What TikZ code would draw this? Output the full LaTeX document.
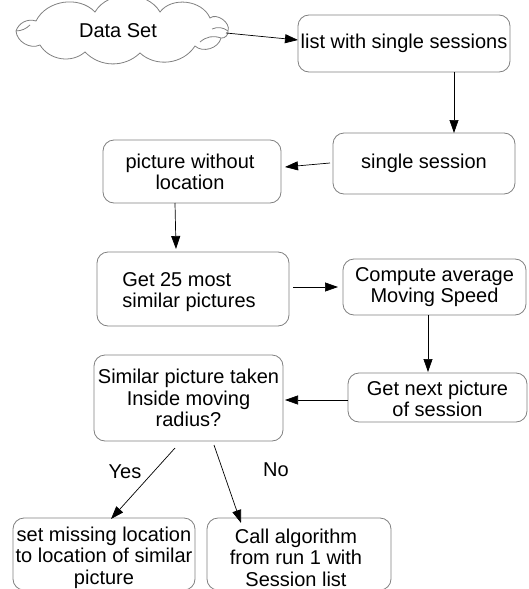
\documentclass[tikz,border=0pt]{standalone}
\usepackage{fontspec}
\setmainfont{Liberation Sans}
\usetikzlibrary{arrows.meta}
\begin{document}
\begin{tikzpicture}[x=1pt,y=-1pt,
  every node/.style={font=\fontsize{20}{21.5}\selectfont, inner sep=0pt, outer sep=0pt},
  box/.style={draw=black!50, line width=0.8pt, rounded corners=11pt, align=center},
  cloudline/.style={draw=black!50, line width=0.8pt},
  arr/.style={draw=black, line width=0.7pt, -{Triangle[length=13pt,width=9pt]}},
  lbl/.style={}]
\useasboundingbox (0,0) rectangle (528,589);
\clip (0,0) rectangle (528,589);
% cloud
\draw[cloudline] (16,31) to[bend left=45] (36,21) to[bend left=55] (95,12) to[bend left=60] (160,12)
  to[bend left=60] (210,18) to[bend left=75] (228,31) to[bend left=55] (221,38)
  to[bend left=60] (195,46) to[bend left=50] (140,53) to[bend left=45] (85,52)
  to[bend left=50] (40,45) to[bend left=55] (16,31) -- cycle;
\draw[cloudline] (212,29) to[bend left=30] (228,31);
\draw[cloudline] (200,42) to[bend left=30] (221,38);
\draw[cloudline] (16,31) to[bend right=20] (30,25);
\coordinate (dsout) at (226,33);
\node (dstext) at (118,31) {Data Set};
% boxes
\node[box, minimum width=212pt, minimum height=57pt] (list) at (404,43.5) {list with single sessions};
\node[box, minimum width=182pt, minimum height=61pt] (single) at (424,163.5) {single session};
\node[box, minimum width=178pt, minimum height=63pt] (pic) at (192,171.5) {};
\node[align=center] (pictext) at (190,172) {picture without\\location};
\node[box, minimum width=192pt, minimum height=74pt] (get) at (193,289) {};
\node[align=left] (gettext) at (189,292) {Get 25 most\\similar pictures};
\node[box, minimum width=183pt, minimum height=56pt] (comp) at (434.5,287) {Compute average\\Moving Speed};
\node[box, minimum width=179pt, minimum height=49pt] (next) at (437.5,397.5) {};
\node[align=center] (nexttext) at (437.5,399) {Get next picture\\of session};
\node[box, minimum width=189pt, minimum height=86pt] (sim) at (188.5,398) {Similar picture taken\\Inside moving\\radius?};
\node[box, minimum width=182pt, minimum height=72pt] (set) at (104,554) {};
\node[align=center] (settext) at (104,557.5) {set missing location\\to location of similar\\picture};
\node[box, minimum width=184pt, minimum height=72pt] (call) at (299,554) {};
\node[align=center] (calltext) at (296,557.5) {Call algorithm\\from run 1 with\\Session list};
% arrows
\draw[arr] (dsout) -- ([yshift=3.5pt]list.west);
\draw[arr] ([xshift=50pt]list.south) -- ([xshift=50pt]list.south |- single.north);
\draw[arr] ([xshift=-3pt,yshift=0.5pt]single.west) -- ([xshift=4pt,yshift=4.5pt]pic.east);
\draw[arr] ([xshift=-17pt]pic.south) -- ([xshift=-17pt,yshift=3pt]get.north);
\draw[arr] ([xshift=4pt,yshift=2pt]get.east) -- ([xshift=-5pt]comp.west);
\draw[arr] ([xshift=-6.5pt]comp.south) -- ([xshift=-9.5pt,yshift=1pt]next.north);
\draw[arr] ([yshift=-2.5pt]next.west) -- ([xshift=2pt,yshift=-2pt]sim.east);
\draw[arr] ([xshift=-13.5pt,yshift=-7pt]sim.south) -- ([xshift=7pt,yshift=-1pt]set.north);
\draw[arr] ([xshift=25.5pt,yshift=-4pt]sim.south) -- ([xshift=-58pt,yshift=-5pt]call.north);
\node[lbl] (yes) at (125,472) {Yes};
\node[lbl] (no) at (276,470) {No};
\end{tikzpicture}
\end{document}
